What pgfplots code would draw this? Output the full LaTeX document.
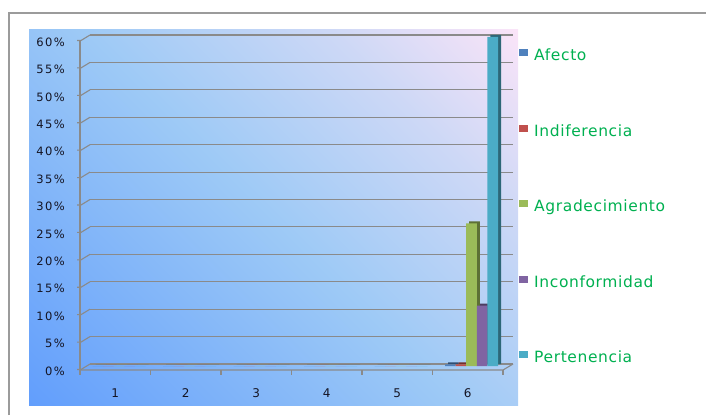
\documentclass[border=0pt]{standalone}
\usepackage{fontspec}
\setmainfont{DejaVu Sans}
\newfontfamily\tickfont[LetterSpace=12]{DejaVu Sans}
\newfontfamily\legfont[LetterSpace=4]{DejaVu Sans}
\usepackage{pgfplots}
\pgfplotsset{compat=1.18}

\definecolor{framegray}{RGB}{155,155,155}
\definecolor{gridgray}{RGB}{138,138,138}
\definecolor{tickcol}{RGB}{20,20,35}
\definecolor{leggreen}{RGB}{0,176,80}
\definecolor{bgA}{RGB}{98,158,252}
\definecolor{bgB}{RGB}{158,202,246}
\definecolor{bgC}{RGB}{205,216,246}
\definecolor{bgD}{RGB}{250,228,248}
\definecolor{cAfe}{RGB}{79,129,189}
\definecolor{cInd}{RGB}{192,80,77}
\definecolor{cAgr}{RGB}{155,187,89}
\definecolor{cInc}{RGB}{128,100,162}
\definecolor{cPer}{RGB}{75,172,198}

% diagonal backdrop: deep blue in the lower left, pale lilac in the upper right
\pgfdeclarehorizontalshading{backdrop}{100bp}{%
  color(0bp)=(bgA); color(14.6bp)=(bgA); color(50bp)=(bgB);
  color(70bp)=(bgC); color(85.4bp)=(bgD); color(100bp)=(bgD)}

\begin{document}
\begin{tikzpicture}[x=1bp,y=1bp]
\useasboundingbox (0,0) rectangle (706,415);
% outer frame
\draw[framegray, line width=1.3bp] (9,0) -- (9,402) -- (706,402);
% chart backdrop
\shade[shading=backdrop, shading angle=45] (29,10) rectangle (518,385);

\begin{axis}[
  at={(90bp,51bp)}, anchor=south west,
  scale only axis, width=423bp, height=329bp,
  xmin=0.5, xmax=6.5, ymin=0, ymax=0.6,
  clip=false,
  axis line style={draw=none},
  major tick length=0pt, tick style={draw=none},
  xtick={1,2,3,4,5,6}, xticklabels={1,2,3,4,5,6},
  ytick={0,0.05,0.1,0.15,0.2,0.25,0.3,0.35,0.4,0.45,0.5,0.55,0.6},
  yticklabels={0\%,5\%,10\%,15\%,20\%,25\%,30\%,35\%,40\%,45\%,50\%,55\%,60\%},
  ymajorgrids, grid style={gridgray, line width=1.1bp},
  yticklabel style={anchor=east, inner sep=0pt, xshift=-25bp, yshift=-7bp,
    font=\tickfont\fontsize{11.5bp}{13bp}\selectfont, text=tickcol},
  xticklabel style={anchor=center, inner sep=0pt, xshift=-10bp, yshift=-29bp,
    font=\tickfont\fontsize{12bp}{14bp}\selectfont, text=tickcol},
  bar width=10.6bp,
  legend cell align=left,
  legend style={at={(axis description cs:1.0142,0.9575)}, anchor=north west,
    draw=none, fill=none, inner sep=0pt, row sep=64bp, column sep=6bp,
    nodes={inner sep=0pt, text height=11bp, text depth=0pt},
    font=\legfont\fontsize{15.5bp}{18bp}\selectfont, text=leggreen},
  legend image code/.code={\fill[#1, yshift=2bp] (0bp,-1bp) rectangle (9bp,6bp);},
]
% side and top faces of the columns
\addplot[ybar, forget plot, draw=none, fill=cAfe!60!black, bar shift=-24.45bp]
  coordinates {(1,0) (2,0) (3,0) (4,0) (5,0) (6,0.003)};
\addplot[ybar, forget plot, draw=none, fill=cInd!60!black, bar shift=-13.85bp]
  coordinates {(1,0) (2,0) (3,0) (4,0) (5,0) (6,0.003)};
\addplot[ybar, forget plot, draw=none, fill=cAgr!60!black, bar shift=-3.25bp]
  coordinates {(1,0) (2,0) (3,0) (4,0) (5,0) (6,0.26)};
\addplot[ybar, forget plot, draw=none, fill=cInc!60!black, bar shift=7.35bp]
  coordinates {(1,0) (2,0) (3,0) (4,0) (5,0) (6,0.11)};
\addplot[ybar, forget plot, draw=none, fill=cPer!60!black, bar shift=17.95bp]
  coordinates {(1,0) (2,0) (3,0) (4,0) (5,0) (6,0.60)};
% front faces
\addplot[ybar, draw=none, fill=cAfe, bar shift=-27.45bp, yshift=-2bp]
  coordinates {(1,0) (2,0) (3,0) (4,0) (5,0) (6,0.003)};
\addplot[ybar, draw=none, fill=cInd, bar shift=-16.85bp, yshift=-2bp]
  coordinates {(1,0) (2,0) (3,0) (4,0) (5,0) (6,0.003)};
\addplot[ybar, draw=none, fill=cAgr, bar shift=-6.25bp, yshift=-2bp]
  coordinates {(1,0) (2,0) (3,0) (4,0) (5,0) (6,0.26)};
\addplot[ybar, draw=none, fill=cInc, bar shift=4.35bp, yshift=-2bp]
  coordinates {(1,0) (2,0) (3,0) (4,0) (5,0) (6,0.11)};
\addplot[ybar, draw=none, fill=cPer, bar shift=14.95bp, yshift=-2bp]
  coordinates {(1,0) (2,0) (3,0) (4,0) (5,0) (6,0.60)};
\legend{Afecto,Indiferencia,Agradecimiento,Inconformidad,Pertenencia}

% front edge of the value axis with its ticks and depth connectors
\draw[gridgray, line width=1.1bp] ([xshift=-10bp,yshift=-5bp]axis cs:0.5,0.6) -- ([xshift=-10bp,yshift=-8bp]axis cs:0.5,0);
\pgfplotsinvokeforeach{0,0.05,0.1,0.15,0.2,0.25,0.3,0.35,0.4,0.45,0.5,0.55,0.6}{
  \draw[gridgray, line width=1.1bp] ([xshift=-13bp,yshift=-5.5bp]axis cs:0.5,#1) -- ([xshift=-9bp,yshift=-5.5bp]axis cs:0.5,#1) -- (axis cs:0.5,#1);
}
% floor
\draw[gridgray, line width=1.1bp] ([xshift=-10bp,yshift=-6bp]axis cs:0.5,0) -- ([xshift=-10bp,yshift=-6bp]axis cs:6.5,0) -- (axis cs:6.5,0);
\pgfplotsinvokeforeach{0.5,1.5,2.5,3.5,4.5,5.5,6.5}{
  \draw[gridgray, line width=1.1bp] ([xshift=-10bp,yshift=-6bp]axis cs:#1,0) -- ([xshift=-10bp,yshift=-11bp]axis cs:#1,0);
}
\end{axis}
\end{tikzpicture}
\end{document}
